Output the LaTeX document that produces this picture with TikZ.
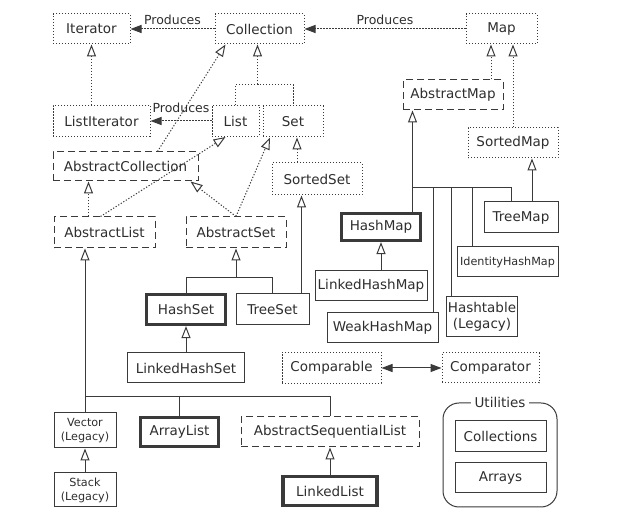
\documentclass[tikz,border=0pt]{standalone}
\usepackage{fontspec}
\setmainfont{DejaVu Sans}
\usetikzlibrary{arrows.meta, calc}
\definecolor{inkgray}{HTML}{2E2E2E}
\definecolor{linegray}{HTML}{3A3A3A}

\begin{document}
\begin{tikzpicture}[
  x=1pt, y=-1pt,
  font=\fontsize{13.5}{16.5}\selectfont,
  basebox/.style={draw=linegray, line width=1pt, text=inkgray, align=center,
    inner xsep=1pt, inner ysep=2pt},
  ifbox/.style 2 args={basebox, dash pattern=on 1.2pt off 1.8pt,
    minimum width=#1, minimum height=#2},
  absbox/.style 2 args={basebox, dash pattern=on 7pt off 4pt,
    minimum width=#1, minimum height=#2},
  clsbox/.style 2 args={basebox, minimum width=#1, minimum height=#2},
  keybox/.style 2 args={basebox, line width=3.2pt, minimum width=#1, minimum height=#2},
  legacy/.style={font=\fontsize{11.2}{14}\selectfont},
  ifline/.style={draw=linegray, line width=1pt, dash pattern=on 1.2pt off 1.8pt},
  clsline/.style={draw=linegray, line width=1pt},
  isa/.style={-{Triangle[open, length=12pt, width=9pt]}},
  makes/.style={ifline, -{Triangle[length=11pt, width=8pt]}},
  lbl/.style={font=\fontsize{12.5}{14}\selectfont, text=inkgray, inner sep=1pt},
]

% Background
\fill[white] (0,0) rectangle (641,518);
\useasboundingbox (0,0) rectangle (641,518);

% ---- Interfaces ----
\node[ifbox={77pt}{30pt}] (iter) at (91.5,29) {Iterator};
\node[ifbox={89pt}{30pt}] (coll) at (259.5,29) {Collection};
\node[ifbox={71pt}{30pt}] (map) at (501.5,29) {Map};
\node[ifbox={97pt}{31pt}] (liter) at (101.5,121) {ListIterator};
\node[ifbox={47pt}{31pt}] (list) at (235.5,121) {List};
\node[ifbox={60pt}{31pt}] (set) at (293,121.5) {Set};
\node[ifbox={90pt}{32pt}] (sset) at (317,179) {SortedSet};
\node[ifbox={90pt}{30pt}] (smap) at (513,143) {SortedMap};
\node[ifbox={99pt}{31pt}] (cmpbl) at (331.5,368) {Comparable};
\node[ifbox={97pt}{30pt}] (cmptr) at (490.5,368) {Comparator};

% ---- Abstract classes ----
\node[absbox={145pt}{29pt}] (acoll) at (125.5,166.5) {AbstractCollection};
\node[absbox={101pt}{31pt}] (alist) at (104.5,232.5) {AbstractList};
\node[absbox={100pt}{31pt}] (aset) at (236,232.5) {AbstractSet};
\node[absbox={100pt}{30pt}] (amap) at (453,95) {AbstractMap};
\node[absbox={178pt}{30pt}] (aseq) at (330,432) {AbstractSequentialList};

% ---- Concrete classes ----
\node[keybox={79pt}{30pt}] (hset) at (186,309.5) {HashSet};
\node[clsbox={73pt}{31pt}] (tset) at (272.5,309.5) {TreeSet};
\node[clsbox={117pt}{30pt}] (lhset) at (186,368) {LinkedHashSet};
\node[keybox={79pt}{27pt}] (hmap) at (381,227) {HashMap};
\node[clsbox={74pt}{31pt}] (tmap) at (521,217.5) {TreeMap};
\node[clsbox={101pt}{30pt}, legacy] (ihmap) at (507.5,262) {IdentityHashMap};
\node[clsbox={112pt}{30pt}] (lhmap) at (371,286) {LinkedHashMap};
\node[clsbox={70pt}{40pt}] (htab) at (482,317) {Hashtable\\(Legacy)};
\node[clsbox={111pt}{30pt}] (whmap) at (382.5,328) {WeakHashMap};
\node[clsbox={62pt}{35pt}, legacy] (vec) at (85,430.5) {Vector\\(Legacy)};
\node[keybox={78pt}{29pt}] (alst) at (179.5,432) {ArrayList};
\node[clsbox={62pt}{34pt}, legacy] (stack) at (85,490) {Stack\\(Legacy)};
\node[keybox={94pt}{29pt}] (llist) at (330,491) {LinkedList};

% ---- Utilities ----
\node[clsbox={114pt}{104pt}, rounded corners=16pt] (util) at (500,455) {};
\node[fill=white, text=inkgray, inner xsep=4pt, inner ysep=1pt] (utitle) at (util.north) {Utilities};
\node[clsbox={91pt}{31pt}] (colls) at (500.5,436.5) {Collections};
\node[clsbox={91pt}{30pt}] (arrs) at (500.5,478) {Arrays};

% ---- Produces ----
\draw[makes] (coll) -- (iter) node[lbl, midway, above=3pt] {Produces};
\draw[makes] (map) -- (coll) node[lbl, midway, above=3pt] {Produces};
\draw[makes] (list) -- (liter) node[lbl, midway, above=7pt] {Produces};

% ---- Interface inheritance ----
\draw[ifline, isa] (iter.south |- liter.north) -- (iter.south);
\coordinate (cbus) at ($(coll.south)+(-2,40)$);
\draw[ifline] (list.north) |- (cbus) -| (set.north);
\draw[ifline, isa] (cbus) -- (cbus |- coll.south);
\coordinate (setfoot) at ([xshift=4pt]set.south);
\draw[ifline, isa] (setfoot |- sset.north) -- (setfoot);
\coordinate (mapfoot) at ([xshift=-10.5pt]map.south);
\draw[ifline, isa] (mapfoot |- amap.north) -- (mapfoot);
\draw[ifline, isa] (smap.north) -- (smap.north |- map.south);

% ---- Abstract classes ----
\draw[ifline, isa] ([xshift=32pt]acoll.north) -- ([xshift=-34pt]coll.south);
\draw[ifline, isa] ([xshift=-4pt]alist.north) -- ([xshift=-10pt]list.south);
\coordinate (alup) at ([xshift=-16pt]alist.north);
\draw[ifline, isa] (alup) -- (alup |- acoll.south);
\draw[ifline, isa] (aset.north) -- ([xshift=-8pt]acoll.south east);
\draw[ifline, isa] (aset.north) -- ([xshift=-23pt]set.south);

% ---- Sets ----
\coordinate (tsup) at ([xshift=-8pt]tset.north east);
\draw[clsline, isa] (tsup) -- (tsup |- sset.south);
\coordinate (sbus) at ($(aset.south)+(0,29)$);
\draw[clsline] (hset.north) |- (sbus) -| (tset.north);
\draw[clsline, isa] (sbus) -- (aset.south);
\draw[clsline, isa] (lhset) -- (hset);

% ---- Maps ----
\coordinate (mbus) at ($(amap.south west)+(10,77)$);
\draw[clsline, isa] (mbus) -- (mbus |- amap.south);
\draw[clsline] (mbus) -- (mbus |- hmap.north);
\coordinate (whup) at ([xshift=-5pt]whmap.north east);
\coordinate (htup) at ([xshift=5pt]htab.north west);
\coordinate (ihup) at ([xshift=16pt]ihmap.north west);
\coordinate (tmup) at ([xshift=-10pt]tmap.north);
\draw[clsline] (mbus) -- (mbus -| tmup);
\foreach \c in {whup, htup, ihup, tmup}
  \draw[clsline] (\c) -- (\c |- mbus);
\draw[clsline, isa] (hmap.south |- lhmap.north) -- (hmap.south);
\coordinate (smfoot) at ([xshift=19pt]smap.south);
\draw[clsline, isa] (smfoot |- tmap.north) -- (smfoot);

% ---- Comparable / Comparator ----
\draw[clsline, {Triangle[length=11pt, width=8pt]}-{Triangle[length=11pt, width=8pt]}] (cmpbl) -- (cmptr);

% ---- Lists ----
\coordinate (lbus) at ($(vec.north)+(0,-16)$);
\draw[clsline, isa] (vec.north) -- (vec.north |- alist.south);
\draw[clsline] (lbus) -| (aseq.north);
\draw[clsline] (alst.north) -- (alst.north |- lbus);
\draw[clsline, isa] (stack) -- (vec);
\draw[clsline, isa] (llist) -- (aseq);

\end{tikzpicture}
\end{document}
